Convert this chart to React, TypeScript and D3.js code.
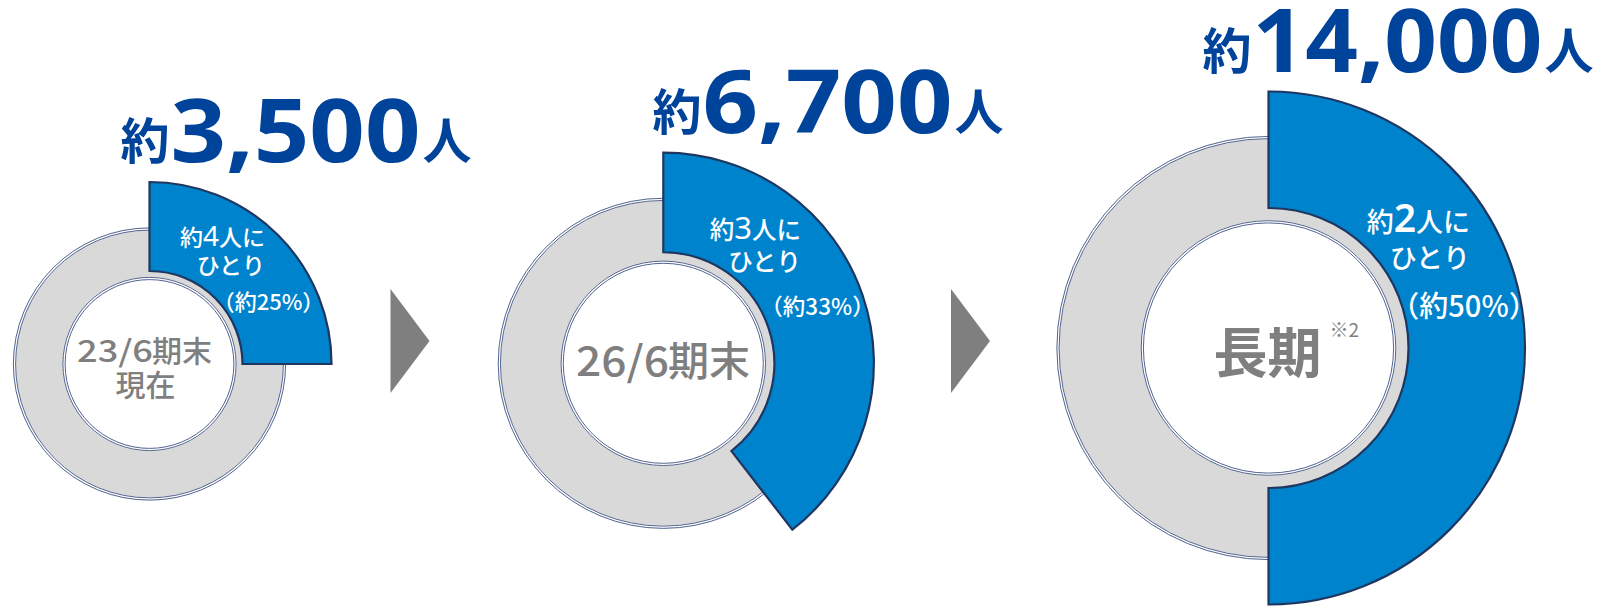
import React from "react";
import * as d3 from "d3";

// ---------- data ----------
const periodNum = ["23/6", "26/6", ""];
const periodWord = ["期末", "期末", "長期"];
const periodSub = ["現在", "", ""];
const periodNote = ["", "", "※2"];
const headcounts = [3500, 6700, 14000];
const oneInN = [4, 3, 2];
const sharePct = [25, 33, 50];
// extent of the blue arc as drawn in the picture (fraction of a full turn)
const arcShare = [0.25, 0.395, 0.5];

// ---------- layout / style ----------
const W = 1598;
const H = 606;
const centerX = [149.5, 663.3, 1268.5];
const centerY = [364, 363.3, 348];
const titleX = [120.5, 652.5, 1202.5];
const digitsLen = [250, 250, 290];
const labelRight = [265, 801, 1470];
const labelMid3 = [268.5, 817.5, 1464];
const labelBase = [
  [246, 274, 310],
  [239, 271, 315],
  [232, 268, 317],
];
const labelFont = [23, 24.5, 27];
const labelDigitFont = [28, 31, 39];
const label3Font = [22, 22.5, 29];
const centerFont = [30, 41, 54];
const centerWeight = [500, 500, 700];
const centerNumX = [77, 576, 0];
const centerNumLen = [76, 93, 0];
const centerBase = [
  [362, 396],
  [376, 0],
  [373, 0],
];
const arrowX = [410, 970.5];
const arrowY = 341;

const TITLE_BLUE = "#00439a";
const SEG_BLUE = "#0083cd";
const NAVY = "#1f3760";
const LINE = "#3f5282";
const RING = "#d9d9d9";
const GREY_TXT = "#7f7f7f";
const JP = "'Noto Sans CJK JP', 'Noto Sans', sans-serif";
const LAT = "'Noto Sans', 'Noto Sans CJK JP', sans-serif";

const ext = d3.extent(headcounts) as [number, number];
const rRing = d3.scaleSqrt().domain(ext).range([136.5, 212]);
const rHole = d3.scaleSqrt().domain(ext).range([84, 124.7]);
const rArcOut = d3.scaleSqrt().domain(ext).range([182, 256.5]);
const rArcIn = d3.scaleSqrt().domain(ext).range([93, 140]);
const angle = d3.scaleLinear().domain([0, 1]).range([0, 2 * Math.PI]);

const fmt = d3.format(",");

function DoubleLine({ r, dir }: { r: number; dir: number }) {
  return (
    <g fill="none">
      <circle r={r + dir * 1.5} stroke="#ffffff" strokeWidth={3} />
      <circle r={r + dir * 0.4} stroke={LINE} strokeWidth={0.9} />
      <circle r={r + dir * 2.6} stroke={LINE} strokeWidth={0.9} />
    </g>
  );
}

function Donut({ i }: { i: number }) {
  const v = headcounts[i];
  const ro = rRing(v);
  const rh = rHole(v);
  const ringArc = d3.arc<any>()({
    innerRadius: rh,
    outerRadius: ro,
    startAngle: 0,
    endAngle: 2 * Math.PI,
  } as any) as string;
  const seg = d3.arc<any>()({
    innerRadius: rArcIn(v),
    outerRadius: rArcOut(v),
    startAngle: angle(0),
    endAngle: angle(arcShare[i]),
  } as any) as string;
  const cx = centerX[i];
  const cy = centerY[i];
  const titleBase = cy - rArcOut(v) - 20;
  const digitsX = titleX[i] + 50;
  const jinX = digitsX + digitsLen[i] + 2;
  return (
    <g>
      <g transform={`translate(${cx},${cy})`}>
        <path d={ringArc} fill={RING} />
        <DoubleLine r={ro} dir={-1} />
        <circle r={rh} fill="#ffffff" />
        <DoubleLine r={rh} dir={1} />
        <path d={seg} fill={SEG_BLUE} stroke={NAVY} strokeWidth={2.2} strokeLinejoin="miter" />
      </g>
      {/* title */}
      <text x={titleX[i]} y={titleBase - 3} fontFamily={JP} fontWeight={700} fontSize={49} fill={TITLE_BLUE}>
        約
      </text>
      <text
        x={digitsX}
        y={titleBase}
        fontFamily={LAT}
        fontWeight={700}
        fontSize={87}
        fill={TITLE_BLUE}
        textLength={digitsLen[i]}
        lengthAdjust="spacingAndGlyphs"
      >
        {fmt(v)}
      </text>
      <text x={jinX} y={titleBase - 3} fontFamily={JP} fontWeight={700} fontSize={49} fill={TITLE_BLUE}>
        人
      </text>
      {/* segment label */}
      <g fill="#ffffff" fontFamily={JP} fontWeight={500}>
        <text x={labelRight[i]} y={labelBase[i][0]} textAnchor="end" fontSize={labelFont[i]}>
          約<tspan fontSize={labelDigitFont[i]} fontFamily={LAT} fontWeight={i === 2 ? 600 : 400}>{oneInN[i]}</tspan>人に
        </text>
        <text x={labelRight[i]} y={labelBase[i][1]} textAnchor="end" fontSize={labelFont[i]}>
          ひとり
        </text>
        <text x={labelMid3[i]} y={labelBase[i][2]} textAnchor="middle" fontSize={label3Font[i]}>
          {`（約${sharePct[i]}%）`}
        </text>
      </g>
      {/* center label */}
      <g fill={GREY_TXT} fontFamily={JP} fontWeight={centerWeight[i]} fontSize={centerFont[i]}>
        {periodNum[i] ? (
          <>
            <text
              x={centerNumX[i]}
              y={centerBase[i][0]}
              textLength={centerNumLen[i]}
              lengthAdjust="spacingAndGlyphs"
            >
              {periodNum[i]}
            </text>
            <text x={centerNumX[i] + centerNumLen[i] - 1} y={centerBase[i][0]}>
              {periodWord[i]}
            </text>
          </>
        ) : (
          <text x={cx - 1} y={centerBase[i][0]} textAnchor="middle">
            {periodWord[i]}
          </text>
        )}
        {periodSub[i] && (
          <text x={cx - 4} y={centerBase[i][1]} textAnchor="middle">
            {periodSub[i]}
          </text>
        )}
      </g>
      {periodNote[i] && (
        <text x={cx + 61} y={cy - 11} fontFamily={JP} fontSize={19} fill={GREY_TXT}>
          {periodNote[i]}
        </text>
      )}
    </g>
  );
}

export default function App() {
  const arrowPath = (x: number) => {
    const line = d3.line();
    return line([
      [x - 19.5, arrowY - 52],
      [x + 19.5, arrowY],
      [x - 19.5, arrowY + 52],
    ]) + "Z";
  };
  return (
    <svg
      width={W}
      height={H}
      viewBox={`0 0 ${W} ${H}`}
      style={{ position: "absolute", left: 0, top: 0, background: "#ffffff" }}
    >
      <rect width={W} height={H} fill="#ffffff" />
      {arrowX.map((x, k) => (
        <path key={k} d={arrowPath(x)} fill="#7f7f7f" />
      ))}
      {headcounts.map((_, i) => (
        <Donut key={i} i={i} />
      ))}
    </svg>
  );
}
